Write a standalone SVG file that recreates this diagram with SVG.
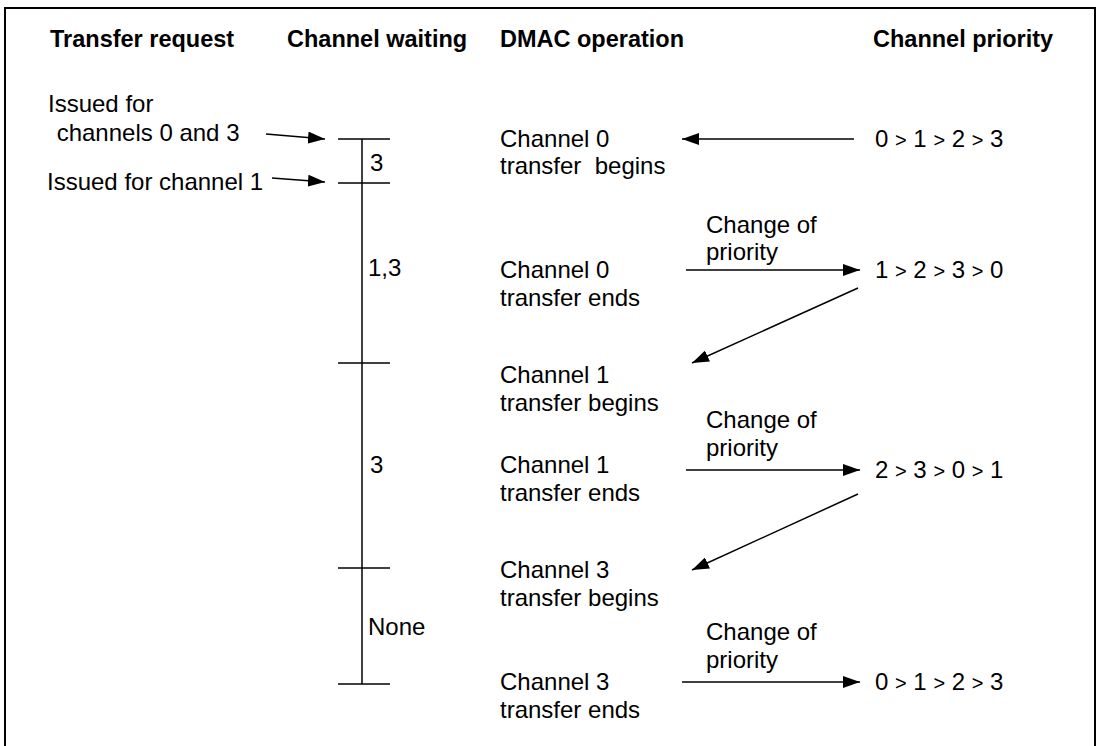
<svg xmlns="http://www.w3.org/2000/svg" width="1098" height="746" viewBox="0 0 1098 746">
<defs>
<style>
text{font-family:"Liberation Sans",Arial,sans-serif;font-size:24px;fill:#000}
.h{font-weight:bold;font-size:23.5px}
.gt{font-size:20px}
.ln{stroke:#000;stroke-width:1.5;fill:none}
.bd{stroke:#000;stroke-width:2;fill:none}
.c{stroke:#000;stroke-width:1.5;fill:none;marker-end:url(#ah)}
</style>
<marker id="ah" markerUnits="userSpaceOnUse" markerWidth="18" markerHeight="12" refX="17" refY="6" orient="auto">
<path d="M0,0 L17,6 L0,12 Z" fill="#000"/>
</marker>
</defs>
<rect width="1098" height="746" fill="#fff"/>
<path class="bd" d="M5,746 V8 H1095 V746"/>
<g id="headers">
<text class="h" x="50" y="47">Transfer request</text>
<text class="h" x="287" y="47">Channel waiting</text>
<text class="h" x="500" y="47">DMAC operation</text>
<text class="h" x="873" y="47">Channel priority</text>
</g>
<g id="requests">
<text x="48" y="112">Issued for</text>
<text x="50" y="141" xml:space="preserve"> channels 0 and 3</text>
<text x="47" y="190">Issued for channel 1</text>
</g>
<g id="timeline">
<line class="ln" x1="362" y1="139" x2="362" y2="684"/>
<line class="ln" x1="338" y1="139" x2="390" y2="139"/>
<line class="ln" x1="338" y1="183" x2="390" y2="183"/>
<line class="ln" x1="338" y1="363" x2="390" y2="363"/>
<line class="ln" x1="338" y1="568" x2="390" y2="568"/>
<line class="ln" x1="338" y1="684" x2="390" y2="684"/>
<text x="370" y="171">3</text>
<text x="368" y="276">1,3</text>
<text x="370" y="473">3</text>
<text x="368" y="635">None</text>
</g>
<g id="op1"><text x="500" y="147">Channel 0</text><text x="500" y="174" xml:space="preserve">transfer  begins</text></g>
<g id="op2"><text x="500" y="278">Channel 0</text><text x="500" y="306">transfer ends</text></g>
<g id="op3"><text x="500" y="383">Channel 1</text><text x="500" y="411">transfer begins</text></g>
<g id="op4"><text x="500" y="473">Channel 1</text><text x="500" y="501">transfer ends</text></g>
<g id="op5"><text x="500" y="578">Channel 3</text><text x="500" y="606">transfer begins</text></g>
<g id="op6"><text x="500" y="690">Channel 3</text><text x="500" y="718">transfer ends</text></g>
<g id="chg1"><text x="706" y="233">Change of</text><text x="706" y="260">priority</text></g>
<g id="chg2"><text x="706" y="428">Change of</text><text x="706" y="456">priority</text></g>
<g id="chg3"><text x="706" y="640">Change of</text><text x="706" y="668">priority</text></g>
<g id="prio1"><text x="875" y="147">0 <tspan class="gt">&gt;</tspan> 1 <tspan class="gt">&gt;</tspan> 2 <tspan class="gt">&gt;</tspan> 3</text></g>
<g id="prio2"><text x="875" y="278">1 <tspan class="gt">&gt;</tspan> 2 <tspan class="gt">&gt;</tspan> 3 <tspan class="gt">&gt;</tspan> 0</text></g>
<g id="prio3"><text x="875" y="478">2 <tspan class="gt">&gt;</tspan> 3 <tspan class="gt">&gt;</tspan> 0 <tspan class="gt">&gt;</tspan> 1</text></g>
<g id="prio4"><text x="875" y="690">0 <tspan class="gt">&gt;</tspan> 1 <tspan class="gt">&gt;</tspan> 2 <tspan class="gt">&gt;</tspan> 3</text></g>
<g id="connectors">
<line class="c" x1="266" y1="134" x2="325" y2="139"/>
<line class="c" x1="272" y1="178" x2="325" y2="182"/>
<line class="c" x1="854" y1="139" x2="682" y2="139"/>
<line class="c" x1="686" y1="270" x2="860" y2="270"/>
<line class="c" x1="858" y1="288" x2="692" y2="363"/>
<line class="c" x1="686" y1="470" x2="860" y2="470"/>
<line class="c" x1="858" y1="494" x2="692" y2="570"/>
<line class="c" x1="682" y1="682" x2="860" y2="682"/>
</g>
</svg>
